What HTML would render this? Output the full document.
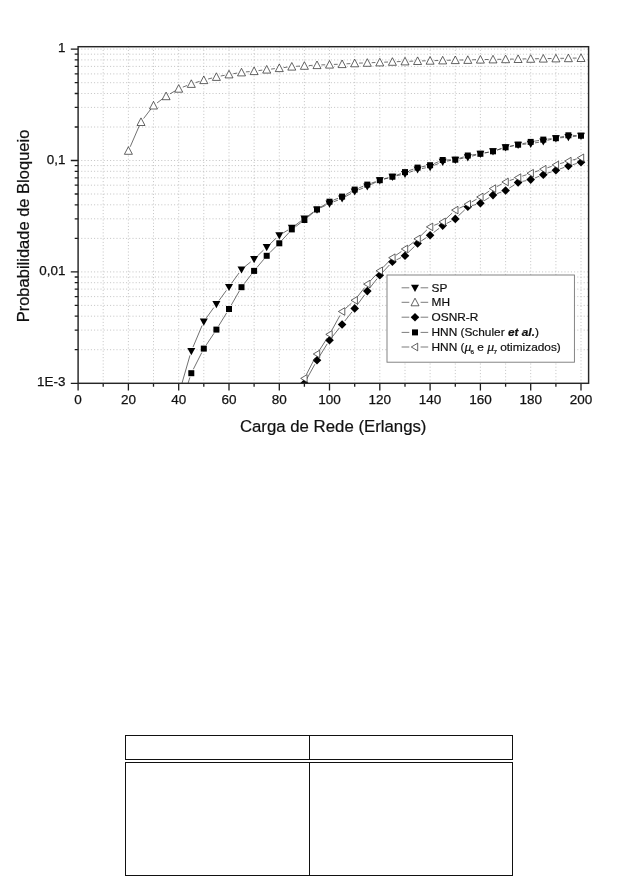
<!DOCTYPE html>
<html><head><meta charset="utf-8"><title>Figura</title>
<style>html,body{margin:0;padding:0;background:#fff}body{width:638px;height:876px;position:relative;overflow:hidden}</style></head>
<body>
<svg width="638" height="876" viewBox="0 0 638 876" style="position:absolute;left:0;top:0">
<defs><clipPath id="cp"><rect x="78.1" y="46.7" width="510.5" height="336.9"/></clipPath></defs>
<path d="M103.2 46.7V383.2M128.4 46.7V383.2M153.5 46.7V383.2M178.7 46.7V383.2M203.8 46.7V383.2M229.0 46.7V383.2M254.1 46.7V383.2M279.3 46.7V383.2M304.4 46.7V383.2M329.5 46.7V383.2M354.7 46.7V383.2M379.8 46.7V383.2M405.0 46.7V383.2M430.1 46.7V383.2M455.3 46.7V383.2M480.4 46.7V383.2M505.6 46.7V383.2M530.7 46.7V383.2M555.9 46.7V383.2M581.0 46.7V383.2M78.1 49.1H588.6M78.1 160.5H588.6M78.1 127.0H588.6M78.1 107.4H588.6M78.1 93.5H588.6M78.1 82.7H588.6M78.1 73.9H588.6M78.1 66.4H588.6M78.1 59.9H588.6M78.1 54.2H588.6M78.1 271.9H588.6M78.1 238.4H588.6M78.1 218.8H588.6M78.1 204.8H588.6M78.1 194.0H588.6M78.1 185.2H588.6M78.1 177.8H588.6M78.1 171.3H588.6M78.1 165.6H588.6M78.1 349.7H588.6M78.1 330.1H588.6M78.1 316.2H588.6M78.1 305.4H588.6M78.1 296.6H588.6M78.1 289.1H588.6M78.1 282.7H588.6M78.1 277.0H588.6" fill="none" stroke="#b4b4b4" stroke-width="0.8" stroke-dasharray="1 2.2"/>
<path d="M78.1 383.2v7.3M103.2 383.2v3.5M128.4 383.2v7.3M153.5 383.2v3.5M178.7 383.2v7.3M203.8 383.2v3.5M229.0 383.2v7.3M254.1 383.2v3.5M279.3 383.2v7.3M304.4 383.2v3.5M329.5 383.2v7.3M354.7 383.2v3.5M379.8 383.2v7.3M405.0 383.2v3.5M430.1 383.2v7.3M455.3 383.2v3.5M480.4 383.2v7.3M505.6 383.2v3.5M530.7 383.2v7.3M555.9 383.2v3.5M581.0 383.2v7.3M78.1 49.1h-7.3M78.1 160.5h-7.3M78.1 127.0h-3.4M78.1 107.4h-3.4M78.1 93.5h-3.4M78.1 82.7h-3.4M78.1 73.9h-3.4M78.1 66.4h-3.4M78.1 59.9h-3.4M78.1 54.2h-3.4M78.1 271.9h-7.3M78.1 238.4h-3.4M78.1 218.8h-3.4M78.1 204.8h-3.4M78.1 194.0h-3.4M78.1 185.2h-3.4M78.1 177.8h-3.4M78.1 171.3h-3.4M78.1 165.6h-3.4M78.1 383.3h-7.3M78.1 349.7h-3.4M78.1 330.1h-3.4M78.1 316.2h-3.4M78.1 305.4h-3.4M78.1 296.6h-3.4M78.1 289.1h-3.4M78.1 282.7h-3.4M78.1 277.0h-3.4" fill="none" stroke="#1c1c1c" stroke-width="1.3"/>
<path clip-path="url(#cp)" d="M181.9 383.5L190.0 355.3M193.0 347.1L202.1 325.5M206.4 317.9L213.8 307.6M219.0 300.5L226.4 290.4M231.5 283.3L239.0 273.0M244.9 266.6L250.7 261.9M257.3 256.1L263.5 250.1M269.9 244.1L276.1 238.2M283.1 233.0L288.0 230.0M295.4 225.2L300.9 221.0M308.0 215.9L313.4 212.0M320.9 207.6L325.6 205.4M333.6 201.8L338.0 200.1M346.0 196.3L350.9 193.5M358.8 189.8L363.2 188.0M371.2 184.5L375.9 182.1M384.1 179.0L388.2 177.9M396.7 175.7L400.7 174.9M409.1 172.4L413.4 170.9M421.9 168.6L425.8 167.8M434.2 165.3L438.6 163.5M447.0 161.1L450.9 160.4M459.6 158.9L463.5 158.1M472.1 156.1L476.2 155.0M484.7 152.9L488.7 152.2M497.2 150.0L501.4 148.6M509.9 146.4L513.8 145.6M522.5 144.4L526.3 144.0M535.0 142.9L539.0 142.2M547.5 140.3L551.6 139.3M560.2 137.8L564.0 137.5M572.8 136.6L576.6 136.2" fill="none" stroke="#333" stroke-width="0.7"/><g clip-path="url(#cp)"><path d="M187.3 348.1L195.3 348.1L191.3 355.3Z" fill="#000"/><path d="M199.8 318.5L207.8 318.5L203.8 325.7Z" fill="#000"/><path d="M212.4 301.0L220.4 301.0L216.4 308.2Z" fill="#000"/><path d="M225.0 283.9L233.0 283.9L229.0 291.1Z" fill="#000"/><path d="M237.5 266.4L245.5 266.4L241.5 273.6Z" fill="#000"/><path d="M250.1 256.1L258.1 256.1L254.1 263.3Z" fill="#000"/><path d="M262.7 244.1L270.7 244.1L266.7 251.3Z" fill="#000"/><path d="M275.3 232.2L283.3 232.2L279.3 239.4Z" fill="#000"/><path d="M287.8 224.8L295.8 224.8L291.8 232.0Z" fill="#000"/><path d="M300.4 215.4L308.4 215.4L304.4 222.6Z" fill="#000"/><path d="M313.0 206.5L321.0 206.5L317.0 213.7Z" fill="#000"/><path d="M325.5 200.5L333.5 200.5L329.5 207.7Z" fill="#000"/><path d="M338.1 195.4L346.1 195.4L342.1 202.6Z" fill="#000"/><path d="M350.7 188.4L358.7 188.4L354.7 195.6Z" fill="#000"/><path d="M363.3 183.4L371.3 183.4L367.3 190.6Z" fill="#000"/><path d="M375.8 177.2L383.8 177.2L379.8 184.4Z" fill="#000"/><path d="M388.4 173.7L396.4 173.7L392.4 180.9Z" fill="#000"/><path d="M401.0 170.9L409.0 170.9L405.0 178.1Z" fill="#000"/><path d="M413.6 166.4L421.6 166.4L417.6 173.6Z" fill="#000"/><path d="M426.1 164.0L434.1 164.0L430.1 171.2Z" fill="#000"/><path d="M438.7 158.8L446.7 158.8L442.7 166.0Z" fill="#000"/><path d="M451.3 156.7L459.3 156.7L455.3 163.9Z" fill="#000"/><path d="M463.8 154.3L471.8 154.3L467.8 161.5Z" fill="#000"/><path d="M476.4 150.8L484.4 150.8L480.4 158.0Z" fill="#000"/><path d="M489.0 148.3L497.0 148.3L493.0 155.5Z" fill="#000"/><path d="M501.6 144.3L509.6 144.3L505.6 151.5Z" fill="#000"/><path d="M514.1 141.7L522.1 141.7L518.1 148.9Z" fill="#000"/><path d="M526.7 140.7L534.7 140.7L530.7 147.9Z" fill="#000"/><path d="M539.3 138.4L547.3 138.4L543.3 145.6Z" fill="#000"/><path d="M551.9 135.2L559.9 135.2L555.9 142.4Z" fill="#000"/><path d="M564.4 134.1L572.4 134.1L568.4 141.3Z" fill="#000"/><path d="M577.0 132.7L585.0 132.7L581.0 139.9Z" fill="#000"/></g>
<path clip-path="url(#cp)" d="M130.2 146.8L139.2 126.0M143.6 118.5L150.9 109.0M157.1 102.9L162.6 98.8M169.9 93.9L174.9 91.0M182.8 87.1L187.1 85.5M195.5 82.6L199.6 81.4M208.1 79.0L212.1 78.0M220.7 76.0L224.7 75.3M233.3 73.7L237.2 73.1M245.9 71.9L249.7 71.6M258.5 70.6L262.3 70.1M271.1 69.1L274.9 68.6M283.6 67.6L287.5 67.1M296.2 66.3L300.0 66.1M308.8 65.6L312.6 65.3M321.4 64.9L325.2 64.8M333.9 64.4L337.7 64.3M346.5 63.8L350.3 63.6M359.1 63.1L362.9 63.0M371.7 62.7L375.4 62.5M384.2 62.2L388.0 62.0M396.8 61.7L400.6 61.5M409.4 61.3L413.2 61.1M422.0 60.9L425.7 60.8M434.5 60.6L438.3 60.5M447.1 60.3L450.9 60.2M459.7 60.0L463.4 60.0M472.2 59.8L476.0 59.7M484.8 59.5L488.6 59.5M497.4 59.3L501.2 59.3M510.0 59.1L513.7 59.1M522.5 58.9L526.3 58.9M535.1 58.7L538.9 58.7M547.7 58.5L551.5 58.5M560.3 58.3L564.0 58.3M572.8 58.1L576.6 58.1" fill="none" stroke="#333" stroke-width="0.7"/><g clip-path="url(#cp)"><path d="M124.4 154.3L132.4 154.3L128.4 146.7Z" fill="#fff" stroke="#222" stroke-width="0.7"/><path d="M137.0 125.5L145.0 125.5L141.0 117.9Z" fill="#fff" stroke="#222" stroke-width="0.7"/><path d="M149.5 109.0L157.5 109.0L153.5 101.4Z" fill="#fff" stroke="#222" stroke-width="0.7"/><path d="M162.1 99.7L170.1 99.7L166.1 92.1Z" fill="#fff" stroke="#222" stroke-width="0.7"/><path d="M174.7 92.2L182.7 92.2L178.7 84.6Z" fill="#fff" stroke="#222" stroke-width="0.7"/><path d="M187.3 87.4L195.3 87.4L191.3 79.8Z" fill="#fff" stroke="#222" stroke-width="0.7"/><path d="M199.8 83.6L207.8 83.6L203.8 76.0Z" fill="#fff" stroke="#222" stroke-width="0.7"/><path d="M212.4 80.4L220.4 80.4L216.4 72.8Z" fill="#fff" stroke="#222" stroke-width="0.7"/><path d="M225.0 77.9L233.0 77.9L229.0 70.3Z" fill="#fff" stroke="#222" stroke-width="0.7"/><path d="M237.5 75.9L245.5 75.9L241.5 68.3Z" fill="#fff" stroke="#222" stroke-width="0.7"/><path d="M250.1 74.6L258.1 74.6L254.1 67.0Z" fill="#fff" stroke="#222" stroke-width="0.7"/><path d="M262.7 73.1L270.7 73.1L266.7 65.5Z" fill="#fff" stroke="#222" stroke-width="0.7"/><path d="M275.3 71.6L283.3 71.6L279.3 64.0Z" fill="#fff" stroke="#222" stroke-width="0.7"/><path d="M287.8 70.1L295.8 70.1L291.8 62.5Z" fill="#fff" stroke="#222" stroke-width="0.7"/><path d="M300.4 69.3L308.4 69.3L304.4 61.7Z" fill="#fff" stroke="#222" stroke-width="0.7"/><path d="M313.0 68.6L321.0 68.6L317.0 61.0Z" fill="#fff" stroke="#222" stroke-width="0.7"/><path d="M325.5 68.1L333.5 68.1L329.5 60.5Z" fill="#fff" stroke="#222" stroke-width="0.7"/><path d="M338.1 67.6L346.1 67.6L342.1 60.0Z" fill="#fff" stroke="#222" stroke-width="0.7"/><path d="M350.7 66.8L358.7 66.8L354.7 59.2Z" fill="#fff" stroke="#222" stroke-width="0.7"/><path d="M363.3 66.3L371.3 66.3L367.3 58.7Z" fill="#fff" stroke="#222" stroke-width="0.7"/><path d="M375.8 65.9L383.8 65.9L379.8 58.3Z" fill="#fff" stroke="#222" stroke-width="0.7"/><path d="M388.4 65.3L396.4 65.3L392.4 57.7Z" fill="#fff" stroke="#222" stroke-width="0.7"/><path d="M401.0 64.9L409.0 64.9L405.0 57.3Z" fill="#fff" stroke="#222" stroke-width="0.7"/><path d="M413.6 64.5L421.6 64.5L417.6 56.9Z" fill="#fff" stroke="#222" stroke-width="0.7"/><path d="M426.1 64.2L434.1 64.2L430.1 56.6Z" fill="#fff" stroke="#222" stroke-width="0.7"/><path d="M438.7 63.9L446.7 63.9L442.7 56.3Z" fill="#fff" stroke="#222" stroke-width="0.7"/><path d="M451.3 63.6L459.3 63.6L455.3 56.0Z" fill="#fff" stroke="#222" stroke-width="0.7"/><path d="M463.8 63.4L471.8 63.4L467.8 55.8Z" fill="#fff" stroke="#222" stroke-width="0.7"/><path d="M476.4 63.1L484.4 63.1L480.4 55.5Z" fill="#fff" stroke="#222" stroke-width="0.7"/><path d="M489.0 62.9L497.0 62.9L493.0 55.3Z" fill="#fff" stroke="#222" stroke-width="0.7"/><path d="M501.6 62.7L509.6 62.7L505.6 55.1Z" fill="#fff" stroke="#222" stroke-width="0.7"/><path d="M514.1 62.5L522.1 62.5L518.1 54.9Z" fill="#fff" stroke="#222" stroke-width="0.7"/><path d="M526.7 62.3L534.7 62.3L530.7 54.7Z" fill="#fff" stroke="#222" stroke-width="0.7"/><path d="M539.3 62.1L547.3 62.1L543.3 54.5Z" fill="#fff" stroke="#222" stroke-width="0.7"/><path d="M551.9 61.9L559.9 61.9L555.9 54.3Z" fill="#fff" stroke="#222" stroke-width="0.7"/><path d="M564.4 61.7L572.4 61.7L568.4 54.1Z" fill="#fff" stroke="#222" stroke-width="0.7"/><path d="M577.0 61.5L585.0 61.5L581.0 53.9Z" fill="#fff" stroke="#222" stroke-width="0.7"/></g>
<path clip-path="url(#cp)" d="M306.5 379.4L314.9 364.2M319.3 356.6L327.2 343.9M332.3 336.8L339.4 327.9M344.8 321.0L352.0 311.9M357.3 304.8L364.7 294.7M370.0 287.7L377.1 278.7M382.8 272.1L389.4 265.0M396.4 259.9L401.0 257.6M408.1 252.6L414.4 246.5M421.2 241.0L426.4 237.6M433.6 232.5L439.2 228.3M446.6 223.5L451.4 221.0M458.4 215.8L464.7 209.9M472.1 205.6L476.2 204.4M484.1 200.8L489.3 197.5M497.1 193.6L501.4 192.0M509.3 188.1L514.4 184.8M522.4 181.4L526.4 180.6M534.8 178.0L539.2 176.3M547.4 173.2L551.7 171.8M560.0 168.9L564.3 167.4M572.6 164.7L576.8 163.5" fill="none" stroke="#333" stroke-width="0.7"/><g clip-path="url(#cp)"><path d="M300.1 383.3L304.4 379.0L308.7 383.3L304.4 387.6Z" fill="#000"/><path d="M312.7 360.3L317.0 356.0L321.3 360.3L317.0 364.6Z" fill="#000"/><path d="M325.2 340.2L329.5 335.9L333.8 340.2L329.5 344.5Z" fill="#000"/><path d="M337.8 324.5L342.1 320.2L346.4 324.5L342.1 328.8Z" fill="#000"/><path d="M350.4 308.4L354.7 304.1L359.0 308.4L354.7 312.7Z" fill="#000"/><path d="M363.0 291.1L367.3 286.8L371.6 291.1L367.3 295.4Z" fill="#000"/><path d="M375.5 275.3L379.8 271.0L384.1 275.3L379.8 279.6Z" fill="#000"/><path d="M388.1 261.8L392.4 257.5L396.7 261.8L392.4 266.1Z" fill="#000"/><path d="M400.7 255.7L405.0 251.4L409.3 255.7L405.0 260.0Z" fill="#000"/><path d="M413.3 243.4L417.6 239.1L421.9 243.4L417.6 247.7Z" fill="#000"/><path d="M425.8 235.2L430.1 230.9L434.4 235.2L430.1 239.5Z" fill="#000"/><path d="M438.4 225.6L442.7 221.3L447.0 225.6L442.7 229.9Z" fill="#000"/><path d="M451.0 218.9L455.3 214.6L459.6 218.9L455.3 223.2Z" fill="#000"/><path d="M463.5 206.8L467.8 202.5L472.1 206.8L467.8 211.1Z" fill="#000"/><path d="M476.1 203.2L480.4 198.9L484.7 203.2L480.4 207.5Z" fill="#000"/><path d="M488.7 195.1L493.0 190.8L497.3 195.1L493.0 199.4Z" fill="#000"/><path d="M501.3 190.5L505.6 186.2L509.9 190.5L505.6 194.8Z" fill="#000"/><path d="M513.8 182.4L518.1 178.1L522.4 182.4L518.1 186.7Z" fill="#000"/><path d="M526.4 179.6L530.7 175.3L535.0 179.6L530.7 183.9Z" fill="#000"/><path d="M539.0 174.7L543.3 170.4L547.6 174.7L543.3 179.0Z" fill="#000"/><path d="M551.6 170.3L555.9 166.0L560.2 170.3L555.9 174.6Z" fill="#000"/><path d="M564.1 166.0L568.4 161.7L572.7 166.0L568.4 170.3Z" fill="#000"/><path d="M576.7 162.2L581.0 157.9L585.3 162.2L581.0 166.5Z" fill="#000"/></g>
<path clip-path="url(#cp)" d="M188.0 383.5L189.9 377.4M193.3 369.3L201.8 352.5M206.3 344.9L214.0 333.3M218.7 325.8L226.7 312.8M231.2 305.2L239.3 291.0M244.2 283.7L251.4 274.4M256.9 267.5L263.9 259.2M269.8 252.7L276.1 246.4M282.2 240.0L288.9 232.7M295.4 226.8L300.9 222.6M307.8 217.2L313.6 212.3M320.7 207.2L325.8 204.0M333.6 200.0L338.0 198.3M346.0 194.5L350.9 191.7M358.8 188.0L363.2 186.2M371.4 183.1L375.7 181.7M384.1 179.0L388.2 177.9M396.5 175.2L400.9 173.6M409.1 170.6L413.4 169.1M421.9 166.8L425.8 166.0M434.2 163.5L438.6 161.7M447.1 159.9L450.9 159.8M459.4 158.3L463.7 156.9M472.2 154.9L476.1 154.4M484.7 152.9L488.7 152.2M497.2 150.0L501.4 148.6M509.9 146.4L513.8 145.6M522.4 143.7L526.4 142.9M535.0 141.1L539.0 140.4M547.7 139.1L551.5 138.7M560.1 137.2L564.1 136.3M572.8 135.4L576.6 135.6" fill="none" stroke="#333" stroke-width="0.7"/><g clip-path="url(#cp)"><rect x="188.3" y="370.2" width="6.0" height="6.0" fill="#000"/><rect x="200.8" y="345.6" width="6.0" height="6.0" fill="#000"/><rect x="213.4" y="326.6" width="6.0" height="6.0" fill="#000"/><rect x="226.0" y="306.0" width="6.0" height="6.0" fill="#000"/><rect x="238.5" y="284.2" width="6.0" height="6.0" fill="#000"/><rect x="251.1" y="267.9" width="6.0" height="6.0" fill="#000"/><rect x="263.7" y="252.8" width="6.0" height="6.0" fill="#000"/><rect x="276.3" y="240.3" width="6.0" height="6.0" fill="#000"/><rect x="288.8" y="226.4" width="6.0" height="6.0" fill="#000"/><rect x="301.4" y="217.0" width="6.0" height="6.0" fill="#000"/><rect x="314.0" y="206.5" width="6.0" height="6.0" fill="#000"/><rect x="326.5" y="198.7" width="6.0" height="6.0" fill="#000"/><rect x="339.1" y="193.6" width="6.0" height="6.0" fill="#000"/><rect x="351.7" y="186.6" width="6.0" height="6.0" fill="#000"/><rect x="364.3" y="181.6" width="6.0" height="6.0" fill="#000"/><rect x="376.8" y="177.2" width="6.0" height="6.0" fill="#000"/><rect x="389.4" y="173.7" width="6.0" height="6.0" fill="#000"/><rect x="402.0" y="169.1" width="6.0" height="6.0" fill="#000"/><rect x="414.6" y="164.6" width="6.0" height="6.0" fill="#000"/><rect x="427.1" y="162.2" width="6.0" height="6.0" fill="#000"/><rect x="439.7" y="157.0" width="6.0" height="6.0" fill="#000"/><rect x="452.3" y="156.7" width="6.0" height="6.0" fill="#000"/><rect x="464.8" y="152.5" width="6.0" height="6.0" fill="#000"/><rect x="477.4" y="150.8" width="6.0" height="6.0" fill="#000"/><rect x="490.0" y="148.3" width="6.0" height="6.0" fill="#000"/><rect x="502.6" y="144.3" width="6.0" height="6.0" fill="#000"/><rect x="515.1" y="141.7" width="6.0" height="6.0" fill="#000"/><rect x="527.7" y="138.9" width="6.0" height="6.0" fill="#000"/><rect x="540.3" y="136.6" width="6.0" height="6.0" fill="#000"/><rect x="552.9" y="135.2" width="6.0" height="6.0" fill="#000"/><rect x="565.4" y="132.3" width="6.0" height="6.0" fill="#000"/><rect x="578.0" y="132.7" width="6.0" height="6.0" fill="#000"/></g>
<path clip-path="url(#cp)" d="M302.4 383.5L302.8 382.5M306.4 374.5L315.0 357.9M319.4 350.3L327.2 338.1M331.7 330.5L340.0 315.4M345.4 308.6L351.4 303.2M357.4 296.8L364.6 287.6M370.3 280.9L376.8 274.0M382.9 267.6L389.4 260.9M396.0 255.2L401.4 251.5M408.4 246.2L414.1 241.7M420.7 235.9L426.9 229.9M434.2 225.3L438.6 223.5M445.9 218.9L452.1 213.1M459.3 208.2L463.9 206.1M471.7 202.0L476.6 199.2M484.1 194.6L489.3 191.0M496.9 186.6L501.7 184.0M509.7 180.5L514.0 179.1M522.3 176.1L526.6 174.7M534.9 171.9L539.1 170.5M547.4 167.8L551.7 166.3M560.1 163.6L564.2 162.4M572.7 160.0L576.7 158.9" fill="none" stroke="#333" stroke-width="0.7"/><g clip-path="url(#cp)"><path d="M307.1 374.6L307.1 382.2L300.7 378.4Z" fill="#fff" stroke="#222" stroke-width="0.7"/><path d="M319.7 350.2L319.7 357.8L313.3 354.0Z" fill="#fff" stroke="#222" stroke-width="0.7"/><path d="M332.2 330.6L332.2 338.2L325.8 334.4Z" fill="#fff" stroke="#222" stroke-width="0.7"/><path d="M344.8 307.7L344.8 315.3L338.4 311.5Z" fill="#fff" stroke="#222" stroke-width="0.7"/><path d="M357.4 296.5L357.4 304.1L351.0 300.3Z" fill="#fff" stroke="#222" stroke-width="0.7"/><path d="M370.0 280.3L370.0 287.9L363.6 284.1Z" fill="#fff" stroke="#222" stroke-width="0.7"/><path d="M382.5 267.0L382.5 274.6L376.1 270.8Z" fill="#fff" stroke="#222" stroke-width="0.7"/><path d="M395.1 253.9L395.1 261.5L388.7 257.7Z" fill="#fff" stroke="#222" stroke-width="0.7"/><path d="M407.7 245.2L407.7 252.8L401.3 249.0Z" fill="#fff" stroke="#222" stroke-width="0.7"/><path d="M420.3 235.1L420.3 242.7L413.9 238.9Z" fill="#fff" stroke="#222" stroke-width="0.7"/><path d="M432.8 223.1L432.8 230.7L426.4 226.9Z" fill="#fff" stroke="#222" stroke-width="0.7"/><path d="M445.4 218.1L445.4 225.7L439.0 221.9Z" fill="#fff" stroke="#222" stroke-width="0.7"/><path d="M458.0 206.3L458.0 213.9L451.6 210.1Z" fill="#fff" stroke="#222" stroke-width="0.7"/><path d="M470.5 200.4L470.5 208.0L464.1 204.2Z" fill="#fff" stroke="#222" stroke-width="0.7"/><path d="M483.1 193.2L483.1 200.8L476.7 197.0Z" fill="#fff" stroke="#222" stroke-width="0.7"/><path d="M495.7 184.8L495.7 192.4L489.3 188.6Z" fill="#fff" stroke="#222" stroke-width="0.7"/><path d="M508.3 178.2L508.3 185.8L501.9 182.0Z" fill="#fff" stroke="#222" stroke-width="0.7"/><path d="M520.8 173.8L520.8 181.4L514.4 177.6Z" fill="#fff" stroke="#222" stroke-width="0.7"/><path d="M533.4 169.4L533.4 177.0L527.0 173.2Z" fill="#fff" stroke="#222" stroke-width="0.7"/><path d="M546.0 165.4L546.0 173.0L539.6 169.2Z" fill="#fff" stroke="#222" stroke-width="0.7"/><path d="M558.6 161.1L558.6 168.7L552.2 164.9Z" fill="#fff" stroke="#222" stroke-width="0.7"/><path d="M571.1 157.3L571.1 164.9L564.7 161.1Z" fill="#fff" stroke="#222" stroke-width="0.7"/><path d="M583.7 154.0L583.7 161.6L577.3 157.8Z" fill="#fff" stroke="#222" stroke-width="0.7"/></g>
<rect x="78.1" y="46.7" width="510.5" height="336.6" fill="none" stroke="#262626" stroke-width="1.45"/>
<rect x="387" y="275" width="187.4" height="87.2" fill="#fff" stroke="#777" stroke-width="0.9"/>
<path d="M401.6 287.8H409.3M420.6 287.8H428.2" stroke="#444" stroke-width="0.7"/>
<path d="M411.0 284.8L419.0 284.8L415.0 292.0Z" fill="#000"/>
<path d="M401.6 302.3H409.3M420.6 302.3H428.2" stroke="#444" stroke-width="0.7"/>
<path d="M411.0 305.8L419.0 305.8L415.0 298.2Z" fill="#fff" stroke="#222" stroke-width="0.7"/>
<path d="M401.6 317.2H409.3M420.6 317.2H428.2" stroke="#444" stroke-width="0.7"/>
<path d="M410.7 317.2L415.0 312.9L419.3 317.2L415.0 321.5Z" fill="#000"/>
<path d="M401.6 332.4H409.3M420.6 332.4H428.2" stroke="#444" stroke-width="0.7"/>
<rect x="412.0" y="329.4" width="6.0" height="6.0" fill="#000"/>
<path d="M401.6 347.0H409.3M420.6 347.0H428.2" stroke="#444" stroke-width="0.7"/>
<path d="M417.7 343.2L417.7 350.8L411.3 347.0Z" fill="#fff" stroke="#222" stroke-width="0.7"/>
<text x="78.1" y="404.4" font-size="13.5" text-anchor="middle" font-family="Liberation Sans, Arial, sans-serif" fill="#111" stroke="#111" stroke-width="0.25">0</text>
<text x="128.4" y="404.4" font-size="13.5" text-anchor="middle" font-family="Liberation Sans, Arial, sans-serif" fill="#111" stroke="#111" stroke-width="0.25">20</text>
<text x="178.7" y="404.4" font-size="13.5" text-anchor="middle" font-family="Liberation Sans, Arial, sans-serif" fill="#111" stroke="#111" stroke-width="0.25">40</text>
<text x="229.0" y="404.4" font-size="13.5" text-anchor="middle" font-family="Liberation Sans, Arial, sans-serif" fill="#111" stroke="#111" stroke-width="0.25">60</text>
<text x="279.3" y="404.4" font-size="13.5" text-anchor="middle" font-family="Liberation Sans, Arial, sans-serif" fill="#111" stroke="#111" stroke-width="0.25">80</text>
<text x="329.5" y="404.4" font-size="13.5" text-anchor="middle" font-family="Liberation Sans, Arial, sans-serif" fill="#111" stroke="#111" stroke-width="0.25">100</text>
<text x="379.8" y="404.4" font-size="13.5" text-anchor="middle" font-family="Liberation Sans, Arial, sans-serif" fill="#111" stroke="#111" stroke-width="0.25">120</text>
<text x="430.1" y="404.4" font-size="13.5" text-anchor="middle" font-family="Liberation Sans, Arial, sans-serif" fill="#111" stroke="#111" stroke-width="0.25">140</text>
<text x="480.4" y="404.4" font-size="13.5" text-anchor="middle" font-family="Liberation Sans, Arial, sans-serif" fill="#111" stroke="#111" stroke-width="0.25">160</text>
<text x="530.7" y="404.4" font-size="13.5" text-anchor="middle" font-family="Liberation Sans, Arial, sans-serif" fill="#111" stroke="#111" stroke-width="0.25">180</text>
<text x="581.0" y="404.4" font-size="13.5" text-anchor="middle" font-family="Liberation Sans, Arial, sans-serif" fill="#111" stroke="#111" stroke-width="0.25">200</text>
<text x="65.4" y="52.2" font-size="13.4" text-anchor="end" font-family="Liberation Sans, Arial, sans-serif" fill="#111" stroke="#111" stroke-width="0.25">1</text>
<text x="65.4" y="163.6" font-size="13.4" text-anchor="end" font-family="Liberation Sans, Arial, sans-serif" fill="#111" stroke="#111" stroke-width="0.25">0,1</text>
<text x="65.4" y="275.0" font-size="13.4" text-anchor="end" font-family="Liberation Sans, Arial, sans-serif" fill="#111" stroke="#111" stroke-width="0.25">0,01</text>
<text x="65.4" y="386.4" font-size="13.4" text-anchor="end" font-family="Liberation Sans, Arial, sans-serif" fill="#111" stroke="#111" stroke-width="0.25">1E-3</text>
<text x="333.2" y="431.7" font-size="16.8" text-anchor="middle" font-family="Liberation Sans, Arial, sans-serif" fill="#111" stroke="#111" stroke-width="0.2">Carga de Rede (Erlangs)</text>
<text transform="translate(29.3 226.0) rotate(-90)" font-size="16.5" text-anchor="middle" font-family="Liberation Sans, Arial, sans-serif" fill="#111" stroke="#111" stroke-width="0.2">Probabilidade de Bloqueio</text>
<text transform="translate(431.5 291.7) scale(1.05 1)" font-size="11.3" font-family="Liberation Sans, Arial, sans-serif" fill="#111" stroke="#111" stroke-width="0.2">SP</text>
<text transform="translate(431.5 306.2) scale(1.05 1)" font-size="11.3" font-family="Liberation Sans, Arial, sans-serif" fill="#111" stroke="#111" stroke-width="0.2">MH</text>
<text transform="translate(431.5 321.1) scale(1.05 1)" font-size="11.3" font-family="Liberation Sans, Arial, sans-serif" fill="#111" stroke="#111" stroke-width="0.2">OSNR-R</text>
<text transform="translate(431.5 336.3) scale(1.05 1)" font-size="11.3" font-family="Liberation Sans, Arial, sans-serif" fill="#111" stroke="#111" stroke-width="0.2">HNN (Schuler <tspan font-weight="bold" font-style="italic">et al.</tspan>)</text>
<text transform="translate(431.5 350.9) scale(1.05 1)" font-size="11.3" font-family="Liberation Sans, Arial, sans-serif" fill="#111" stroke="#111" stroke-width="0.2">HNN (<tspan font-family="Liberation Serif, serif" font-style="italic" font-size="13.2">μ</tspan><tspan font-size="6" dy="3" dx="-0.8">6</tspan><tspan dy="-3"> e </tspan><tspan font-family="Liberation Serif, serif" font-style="italic" font-size="13.2">μ</tspan><tspan font-size="6" dy="3" dx="-0.8">7</tspan><tspan dy="-3"> otimizados)</tspan></text>
<g fill="none" stroke="#111" stroke-width="1"><rect x="125.5" y="735.5" width="387" height="24"/><path d="M309.5 735.5V759.5"/><rect x="125.5" y="762.5" width="387" height="113"/><path d="M309.5 762.5V875.5"/></g>
</svg>
</body></html>
